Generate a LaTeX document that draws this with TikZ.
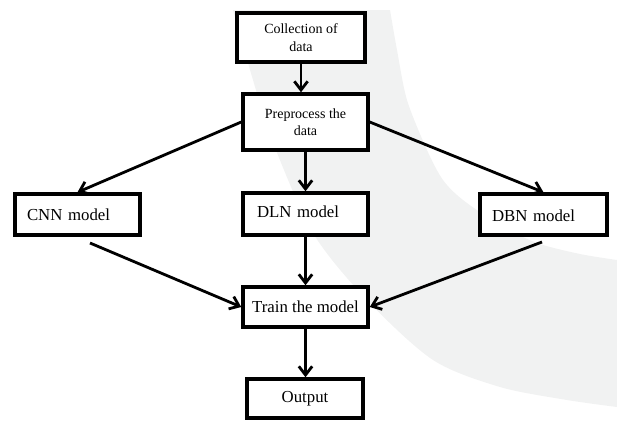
\documentclass[tikz,border=0pt]{standalone}
\usepackage{fontspec}
\setmainfont{Liberation Serif}
\usetikzlibrary{arrows.meta}
\definecolor{wm}{RGB}{241,242,242}
\begin{document}
\begin{tikzpicture}[x=0.75pt,y=-0.75pt,
  box/.style={draw, line width=2.6pt, fill=white, inner sep=0pt},
  big/.style={font=\fontsize{12.6}{14}\selectfont},
  small/.style={font=\fontsize{10.5}{13.2}\selectfont, align=center},
  lbox/.style={box, big, align=left, inner xsep=9pt},
  conn/.style={line width=2.1pt, -{Straight Barb[length=6.5pt,width=10pt]}}]
\useasboundingbox (0,0) rectangle (617,421);
% watermark band
\fill[wm] plot[smooth] coordinates {(233,10) (253,80) (272,140) (313,233) (367,300) (433,360) (500,387) (567,400) (617,407)}
  -- plot[smooth] coordinates {(617,260) (580,254) (537,243) (500,225) (463,200) (443,180) (427,150) (407,100) (397,50) (390,10)} -- cycle;
% boxes
\node[box, small, minimum width=96pt, minimum height=36.75pt] (coll) at (301,37.5) {Collection of\\data};
\node[box, small, font=\fontsize{10.5}{12.5}\selectfont, minimum width=93.75pt, minimum height=42pt] (pre) at (305.5,122) {Preprocess the\\data};
\node[lbox, text width=75.75pt, minimum height=30.75pt] (cnn) at (77.5,214.5) {CNN model};
\node[lbox, inner xsep=10.5pt, text width=72.75pt, minimum height=31.5pt, text depth=3pt] (dln) at (305.5,214) {DLN model};
\node[lbox, text width=77.25pt, minimum height=30.75pt, text height=11pt] (dbn) at (543.5,214.5) {DBN model};
\node[box, big, minimum width=93.75pt, minimum height=30pt] (train) at (305.5,307) {Train the model};
\node[box, big, minimum width=87pt, minimum height=29.25pt] (out) at (305,398.5) {Output};
% free ends
\coordinate (cnnout) at (90,243);
\coordinate (dbnout) at (542,242);
% connectors
\draw[conn] (coll.south) -- (coll.south |- pre.north);
\draw[conn] (pre.west) -- (cnn.north);
\draw[conn] (pre.south) -- (dln.north);
\draw[conn] (pre.east) -- (dbn.north);
\draw[conn] (cnnout) -- (train.west);
\draw[conn] (dln.south) -- (train.north);
\draw[conn] (dbnout) -- (train.east);
\draw[conn] (train.south) -- (train.south |- out.north);
\end{tikzpicture}
\end{document}
